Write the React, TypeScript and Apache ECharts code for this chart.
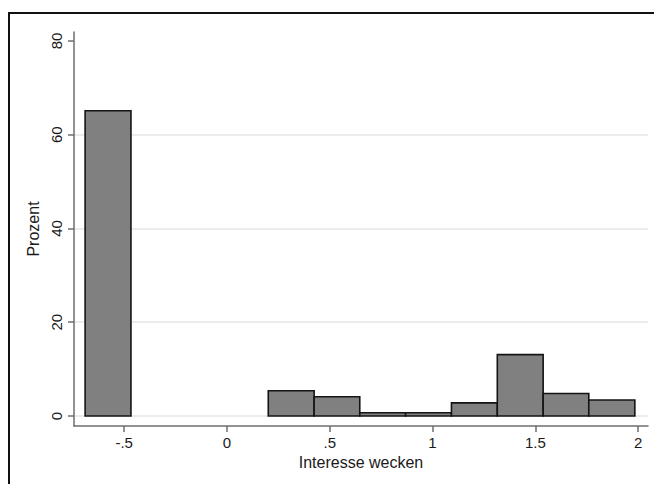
import React, { useEffect, useRef } from "react";
import * as echarts from "echarts";

const binEdges = [-0.69, -0.467, -0.245, -0.022, 0.201, 0.424, 0.646, 0.869, 1.092, 1.315, 1.538, 1.76, 1.984];
const percents = [65.1, 0, 0, 0, 5.4, 4.1, 0.7, 0.7, 2.8, 13.1, 4.8, 3.4];
const xTicks = [-0.5, 0, 0.5, 1, 1.5, 2];
const yTicks = [0, 20, 40, 60, 80];
const gridValues = [0, 20, 40, 60];

const FONT = "'Liberation Sans', Arial, sans-serif";

function fmtX(v: number): string {
  const s = String(v);
  if (s.startsWith("0.")) return s.slice(1);
  if (s.startsWith("-0.")) return "-" + s.slice(2);
  return s;
}

export default function App() {
  const ref = useRef<HTMLDivElement>(null);
  useEffect(() => {
    if (!ref.current) return;
    const chart = echarts.init(ref.current, undefined, { renderer: "svg" });
    const data = percents
      .map((p, i) => [binEdges[i], binEdges[i + 1], p])
      .filter((d) => d[2] > 0);
    chart.setOption({
      animation: false,
      backgroundColor: "#ffffff",
      grid: { left: 74, right: 6, top: 32, bottom: 58 },
      xAxis: {
        type: "value",
        min: -0.744,
        max: 2.048,
        name: "Interesse wecken",
        nameLocation: "middle",
        nameGap: 26,
        nameTextStyle: { fontFamily: FONT, fontSize: 16, color: "#1a1a1a" },
        axisLine: { show: true, onZero: false, lineStyle: { color: "#6e6e6e", width: 1.5 } },
        axisTick: { show: true, length: 6, customValues: xTicks, lineStyle: { color: "#6e6e6e", width: 1.5 } },
        axisLabel: {
          customValues: xTicks,
          formatter: (v: number) => fmtX(v),
          margin: 9,
          fontFamily: FONT,
          fontSize: 15,
          color: "#1a1a1a",
        },
        splitLine: { show: false },
      },
      yAxis: {
        type: "value",
        min: -2.13,
        max: 81.9,
        name: "Prozent",
        nameLocation: "middle",
        nameGap: 28,
        nameRotate: 90,
        nameTextStyle: { fontFamily: FONT, fontSize: 16, color: "#1a1a1a" },
        axisLine: { show: true, onZero: false, lineStyle: { color: "#6e6e6e", width: 1.5 } },
        axisTick: { show: true, length: 6, customValues: yTicks, lineStyle: { color: "#6e6e6e", width: 1.5 } },
        axisLabel: {
          customValues: yTicks,
          rotate: 90,
          margin: 10,
          fontFamily: FONT,
          fontSize: 15,
          color: "#1a1a1a",
        },
        splitLine: { show: false },
      },
      graphic: [
        {
          type: "rect",
          shape: { x: 9, y: 13, width: 700, height: 520 },
          style: { fill: "none", stroke: "#111111", lineWidth: 2 },
          silent: true,
          z: 100,
        },
      ],
      series: [
        {
          type: "line",
          data: [],
          z: 1,
          silent: true,
          markLine: {
            silent: true,
            z: 0,
            symbol: "none",
            label: { show: false },
            lineStyle: { color: "#e6e6e6", width: 1.5, type: "solid" },
            data: gridValues.map((v) => ({ yAxis: v })),
          },
        },
        {
          type: "custom",
          z: 10,
          data,
          encode: { x: [0, 1], y: 2 },
          renderItem: (params: any, api: any) => {
            const x0 = api.value(0);
            const x1 = api.value(1);
            const h = api.value(2);
            const p0 = api.coord([x0, h]);
            const p1 = api.coord([x1, 0]);
            return {
              type: "rect",
              shape: { x: p0[0], y: p0[1], width: p1[0] - p0[0], height: p1[1] - p0[1] },
              style: { fill: "#808080", stroke: "#141414", lineWidth: 1.6 },
            };
          },
        },
      ],
    });
    return () => chart.dispose();
  }, []);
  return (
    <div
      ref={ref}
      style={{ position: "fixed", left: 0, top: 0, width: 654, height: 484 }}
    />
  );
}
